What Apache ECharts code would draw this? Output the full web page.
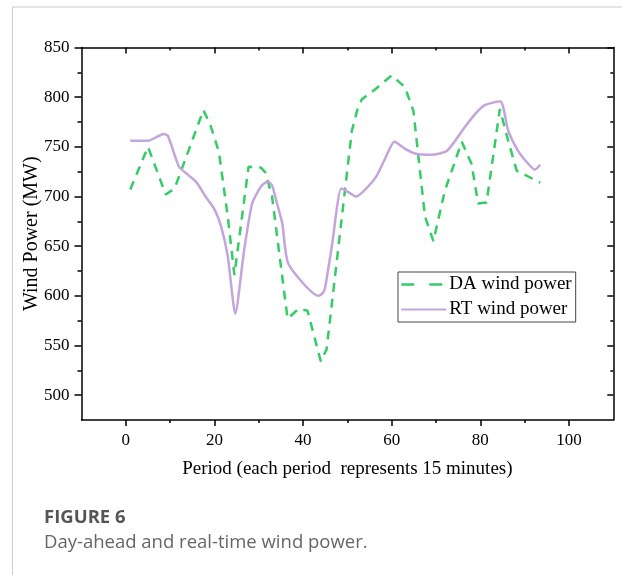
<!DOCTYPE html>
<html>
<head>
<meta charset="utf-8">
<script src="https://cdn.jsdelivr.net/npm/echarts@6/dist/echarts.min.js"></script>
<style>
html,body{margin:0;padding:0;background:#fff;}
#c{width:622px;height:575px;}
</style>
</head>
<body>
<div id="c"></div>
<script>
// Day-ahead (DA) wind power: [period, MW] vertices
const daPeriods = [1, 5, 9, 11, 17.5, 19, 21, 23, 24.5, 27.7, 30.5, 31.5, 33, 36.5, 39, 41, 44, 45.3, 51, 52.4, 53.3, 56.3, 60, 63, 64.9, 67.5, 69.4, 72, 75.8, 78, 79.5, 81.4, 84.4, 86.3, 88.2, 93.5];
const daValues  = [707, 750, 702, 708, 787, 773, 745, 680, 621, 730, 729, 724, 700, 577, 587, 585, 534, 546, 766, 790, 798, 808, 822, 810, 786, 680, 655, 706, 755, 733, 693, 694, 788, 756, 726, 714];
// Real-time (RT) wind power
const rtPeriods = [1, 5, 7, 8.5, 9.5, 12, 14, 16, 18, 20, 21.5, 23, 24.7, 26.7, 28.5, 30.5, 32, 33, 34, 35.3, 36.7, 43.5, 44.5, 45, 46.5, 48.6, 50, 52, 54, 56.5, 58.5, 60.6, 63, 65.5, 69, 72.5, 76.5, 79, 81, 84.5, 86.3, 88.5, 90.8, 92.3, 93.5];
const rtValues  = [756, 756, 760, 763, 761, 730, 722, 714, 700, 687, 670, 640, 582, 646, 693, 710, 715, 711, 695, 673, 632, 600, 603, 609, 650, 708, 705, 700, 707, 720, 738, 755, 748, 743, 742, 746, 770, 784, 792, 796, 766, 746, 733, 727, 732];
// Axis ticks
const xMajorTicks = [0, 20, 40, 60, 80, 100];
const xMinorTicks = [10, 30, 50, 70, 90];
const yMajorTicks = [500, 550, 600, 650, 700, 750, 800, 850];
const yMinorTicks = [525, 575, 625, 675, 725, 775, 825];
const seriesNames = ['DA wind power', 'RT wind power'];
const xTitle = 'Period (each period  represents 15 minutes)';
const yTitle = 'Wind Power (MW)';
const captionTitle = 'FIGURE 6';
const captionText = 'Day-ahead and real-time wind power.';

const serif = 'Liberation Serif';
const black = '#000';
const green = '#33cc66';
const purple = '#c3a5dc';
const toPairs = (xs, ys) => xs.map((x, i) => [x, ys[i]]);

function mkAxis(kind, pos, ticks, len, inside, showLine, labels) {
  const isX = kind === 'x';
  return {
    type: 'value', position: pos,
    min: isX ? -10 : 475, max: isX ? 110 : 850,
    axisLine: {show: showLine, onZero: false, lineStyle: {color: black, width: 1.5}},
    axisTick: {show: true, inside: inside, length: len, customValues: ticks, lineStyle: {color: black, width: 1.5}},
    axisLabel: labels ? {show: true, customValues: ticks, fontFamily: serif, fontSize: 17, color: black, margin: 12} : {show: false},
    splitLine: {show: false}
  };
}

const xAxes = [
  Object.assign(mkAxis('x', 'bottom', xMajorTicks, 6, false, true, true), {
    name: xTitle, nameLocation: 'middle', nameGap: 40,
    nameTextStyle: {fontFamily: serif, fontSize: 19, color: black}
  }),
  mkAxis('x', 'bottom', xMinorTicks, 3, false, false, false),
  mkAxis('x', 'top', xMajorTicks, 6, true, true, false),
  mkAxis('x', 'top', xMinorTicks, 3, true, false, false)
];
const yAxes = [
  Object.assign(mkAxis('y', 'left', yMajorTicks, 7, false, true, true), {
    name: yTitle, nameLocation: 'middle', nameGap: 40, nameRotate: 90, nameMoveOverlap: false,
    nameTextStyle: {fontFamily: serif, fontSize: 20, color: black}
  }),
  mkAxis('y', 'left', yMinorTicks, 4, false, false, false),
  mkAxis('y', 'right', yMajorTicks, 6, true, true, false),
  mkAxis('y', 'right', yMinorTicks, 3, true, false, false)
];

const chart = echarts.init(document.getElementById('c'), null, {renderer: 'canvas'});
chart.setOption({
  animation: false,
  backgroundColor: '#fff',
  grid: {left: 81.5, right: 8.7, top: 47.5, bottom: 155, containLabel: false},
  xAxis: xAxes,
  yAxis: yAxes,
  legend: {
    left: 398, top: 272, orient: 'vertical',
    itemWidth: 45, itemHeight: 14, itemGap: 6,
    padding: [3, 4, 3, 2],
    borderColor: '#444', borderWidth: 1,
    textStyle: {fontFamily: serif, fontSize: 19, color: black, padding: [0, 0, 0, -2]},
    data: [
      {name: seriesNames[0], itemStyle: {opacity: 0}, lineStyle: {type: [13, 15], width: 2.5, color: green}},
      {name: seriesNames[1], itemStyle: {opacity: 0}}
    ]
  },
  series: [
    {
      name: seriesNames[0], type: 'line', data: toPairs(daPeriods, daValues),
      symbol: 'none', color: green,
      lineStyle: {color: green, width: 2.5, type: [9, 7]},
      xAxisIndex: 0, yAxisIndex: 0
    },
    {
      name: seriesNames[1], type: 'line', data: toPairs(rtPeriods, rtValues),
      symbol: 'none', color: purple, smooth: 0.2,
      lineStyle: {color: purple, width: 2.5},
      xAxisIndex: 0, yAxisIndex: 0
    }
  ],
  graphic: [
    {type: 'line', shape: {x1: 12.5, y1: 7, x2: 622, y2: 7}, style: {stroke: '#cccccc', lineWidth: 1}},
    {type: 'line', shape: {x1: 12.5, y1: 7, x2: 12.5, y2: 575}, style: {stroke: '#cccccc', lineWidth: 1}},
    {type: 'text', left: 44, top: 508, style: {text: captionTitle, font: 'bold 18.5px "Open Sans"', fill: '#555'}},
    {type: 'text', left: 44, top: 533, style: {text: captionText, font: '18.5px "Open Sans"', fill: '#666'}}
  ]
});
</script>
</body>
</html>
